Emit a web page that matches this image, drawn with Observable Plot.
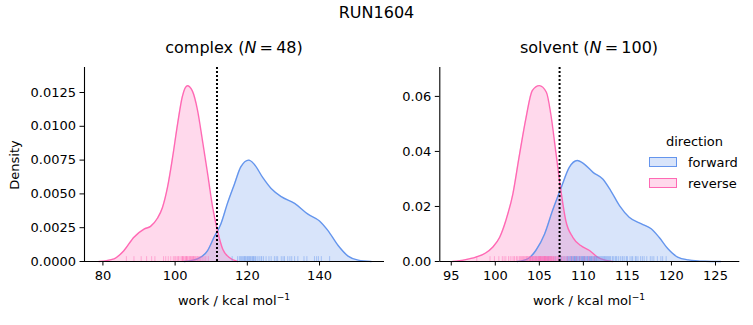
<!DOCTYPE html>
<html><head><meta charset="utf-8">
<script src="https://cdn.jsdelivr.net/npm/d3@7"></script>
<script src="https://cdn.jsdelivr.net/npm/@observablehq/plot@0.6"></script>
<style>
body{margin:0;background:#fff;}
#chart{position:relative;width:753px;height:325px;font-family:"DejaVu Sans",sans-serif;color:#000;overflow:hidden;background:#fff}
.abs{position:absolute;white-space:nowrap;line-height:1;transform:translate(-50%,-50%);}
.panel{position:absolute;top:0;}
sup{font-size:70%;vertical-align:0.55em;line-height:0}
.patch{position:absolute;width:26px;height:8px;}
</style></head><body><div id="chart"></div>
<script>
// ---- data ----
const title = "RUN1604";
const directions = ["forward", "reverse"];
const colors = ["#6495ED", "#FF69B4"];

// complex panel: KDE curves
const complexForwardX = [102.5,106.2,109.0,110.8,112.7,114.5,116.4,118.2,120.4,121.9,124.3,126.6,129.4,133.1,136.8,140.0,142.3,145.1,147.9,150.7,154.3];
const complexForwardY = [0,0.0002,0.0008,0.0018,0.0028,0.0043,0.0057,0.0070,0.0075,0.0072,0.0062,0.0054,0.0048,0.0043,0.0035,0.0030,0.0023,0.0012,0.0004,0.0001,0];
const complexReverseX = [78.9,83.1,85.8,88.6,91.4,93.2,95.1,96.5,97.9,99.3,100.7,102.0,103.4,104.8,106.2,107.6,109.0,110.4,111.8,113.2,115.0,117.3];
const complexReverseY = [0,0.0002,0.0008,0.0018,0.0024,0.0026,0.0032,0.0040,0.0055,0.0077,0.0102,0.0122,0.0130,0.0126,0.0112,0.0089,0.0065,0.0040,0.0022,0.0009,0.0003,0];
const complexForwardRug = [115.8,117.3,117.8,118.1,118.4,118.7,119.0,119.2,119.4,119.6,119.9,120.1,120.3,120.6,120.8,121.0,121.3,121.5,121.7,121.9,122.2,122.4,122.9,123.3,123.8,124.0,124.5,125.2,126.0,126.6,127.5,128.0,128.4,129.4,129.9,130.3,131.2,131.8,132.3,133.1,134.0,135.7,136.5,138.6,139.2,139.7,140.5,142.8];
const complexReverseRug = [86.5,88.6,90.6,92.1,93.5,94.4,96.8,97.4,98.1,98.8,99.5,99.9,100.2,100.6,100.9,101.1,101.6,101.9,102.0,102.1,102.3,102.5,102.8,103.0,103.1,103.2,103.4,103.6,103.9,104.1,104.2,104.4,104.6,104.8,105.0,105.1,105.3,105.5,105.7,106.0,106.2,106.5,106.8,107.1,107.5,108.0,108.5,109.2];
const complexThreshold = 111.6;
const complexN = 48;

// solvent panel: KDE curves
const solventForwardX = [102.5,103.7,104.6,105.6,106.5,107.5,108.4,109.3,110.1,111.1,112.2,113.1,114.1,115.2,116.6,117.7,118.6,119.6,120.7,121.9,123.8,125.6];
const solventForwardY = [0,0.001,0.004,0.010,0.0185,0.027,0.0342,0.0367,0.0354,0.0324,0.030,0.0258,0.0203,0.0161,0.0137,0.0119,0.0088,0.0046,0.0016,0.0006,0.0001,0];
const solventReverseX = [95.15,96.5,97.8,98.9,99.7,100.5,101.2,102.0,102.7,103.5,104.2,105.0,105.8,106.3,106.9,107.5,108.0,108.8,109.7,110.7,111.6,112.6,113.3];
const solventReverseY = [0,0.0006,0.0016,0.0031,0.0052,0.0088,0.0149,0.0246,0.0379,0.0524,0.0621,0.0639,0.0615,0.0536,0.0391,0.0246,0.0149,0.0088,0.0058,0.0040,0.0016,0.0004,0];
const solventForwardRug = [106.0,106.8,107.2,107.4,107.5,107.7,107.9,108.1,108.2,108.3,108.4,108.5,108.6,108.65,108.7,108.8,108.9,108.95,109.0,109.05,109.1,109.2,109.25,109.3,109.4,109.5,109.55,109.6,109.7,109.8,109.85,109.9,110.0,110.05,110.1,110.15,110.2,110.3,110.4,110.45,110.5,110.6,110.7,110.75,110.8,110.9,110.95,111.0,111.1,111.2,111.25,111.3,111.4,111.45,111.5,111.6,111.7,111.8,111.9,112.0,112.1,112.2,112.3,112.4,112.5,112.6,112.7,112.8,112.9,113.0,113.1,113.3,113.4,113.6,113.7,113.8,114.0,114.2,114.4,114.5,114.7,114.9,115.0,115.3,115.5,115.6,115.9,116.0,116.2,116.5,116.7,116.9,117.2,117.6,117.8,118.0,118.4,118.8,119.0,119.4];
const solventReverseRug = [97.9,99.4,99.9,100.4,100.8,101.0,101.2,101.5,101.7,101.9,102.1,102.2,102.4,102.5,102.7,102.8,102.9,103.0,103.1,103.2,103.3,103.4,103.5,103.6,103.6,103.7,103.8,103.9,103.9,104.0,104.0,104.1,104.2,104.2,104.3,104.3,104.4,104.5,104.5,104.6,104.6,104.7,104.7,104.8,104.9,104.9,105.0,105.0,105.1,105.1,105.1,105.2,105.2,105.3,105.3,105.4,105.4,105.5,105.5,105.6,105.6,105.6,105.7,105.7,105.8,105.8,105.9,105.9,106.0,106.0,106.1,106.1,106.2,106.2,106.3,106.3,106.4,106.4,106.5,106.6,106.6,106.7,106.8,106.9,107.0,107.1,107.2,107.3,107.5,107.6,107.8,108.0,108.2,108.5,108.8,109.2,109.6,110.1,110.6,111.2];
const solventThreshold = 107.3;
const solventN = 100;

// axes
const complexXTicks = [80,100,120,140];
const complexYTicks = [0,0.0025,0.005,0.0075,0.01,0.0125];
const solventXTicks = [95,100,105,110,115,120,125];
const solventYTicks = [0,0.02,0.04,0.06];

// ---- drawing ----
const zip = (xs, ys) => xs.map((x, i) => ({x, y: ys[i]}));

function panel(o) {
  const rugH = o.yDomain[1] * 0.025;
  const curves = [zip(o.fx, o.fy), zip(o.rx, o.ry)];
  const rugs = [o.fr, o.rr];
  const marks = [];
  curves.forEach((c, i) => marks.push(Plot.areaY(c, {x: "x", y: "y", fill: colors[i], fillOpacity: 0.25, curve: "monotone-x"})));
  curves.forEach((c, i) => marks.push(Plot.lineY(c, {x: "x", y: "y", stroke: colors[i], strokeWidth: 1.4, curve: "monotone-x"})));
  rugs.forEach((r, i) => marks.push(Plot.ruleX(r, {x: d => d, y1: 0, y2: rugH, stroke: colors[i], strokeOpacity: 0.45, strokeWidth: 1})));
  marks.push(Plot.ruleX([o.threshold], {stroke: "black", strokeWidth: 2, strokeDasharray: "2,2"}));
  marks.push(Plot.ruleX([o.xDomain[0]], {stroke: "black", strokeWidth: 1.1}));
  marks.push(Plot.ruleY([0], {stroke: "black", strokeWidth: 1.1}));
  marks.push(Plot.axisX({ticks: o.xTicks, tickSize: 4.5, tickPadding: 5, label: null, tickFormat: d => String(d)}));
  marks.push(Plot.axisY({ticks: o.yTicks, tickSize: 4.5, tickPadding: 4, label: null, tickFormat: o.yFormat}));
  return Plot.plot({
    width: o.width, height: 325,
    marginLeft: o.marginLeft, marginRight: o.marginRight, marginTop: 67, marginBottom: 64,
    x: {domain: o.xDomain}, y: {domain: o.yDomain},
    style: {fontFamily: "DejaVu Sans", fontSize: "13px", color: "black", background: "transparent", overflow: "visible"},
    marks
  });
}

const chart = document.getElementById("chart");
const p1 = panel({fx: complexForwardX, fy: complexForwardY, rx: complexReverseX, ry: complexReverseY,
  fr: complexForwardRug, rr: complexReverseRug, threshold: complexThreshold,
  xDomain: [74.9, 158], yDomain: [0, 0.01435], xTicks: complexXTicks, yTicks: complexYTicks,
  yFormat: d3.format(".4f"), width: 400, marginLeft: 84, marginRight: 16});
p1.classList.add("panel"); p1.style.left = "0px";
chart.appendChild(p1);
const p2 = panel({fx: solventForwardX, fy: solventForwardY, rx: solventReverseX, ry: solventReverseY,
  fr: solventForwardRug, rr: solventReverseRug, threshold: solventThreshold,
  xDomain: [93.7, 127.76], yDomain: [0, 0.0705], xTicks: solventXTicks, yTicks: solventYTicks,
  yFormat: d3.format(".2f"), width: 353, marginLeft: 39.3, marginRight: 13.7});
p2.classList.add("panel"); p2.style.left = "400px";
chart.appendChild(p2);

function text(html, x, y, size, extra) {
  const d = document.createElement("div");
  d.className = "abs";
  d.innerHTML = html;
  d.style.left = x + "px"; d.style.top = y + "px"; d.style.fontSize = size + "px";
  if (extra) Object.assign(d.style, extra);
  chart.appendChild(d);
  return d;
}
text(title, 376.5, 13, 16);
text(`complex (<i>N</i>&thinsp;=&thinsp;${complexN})`, 234, 48, 16);
text(`solvent (<i>N</i>&thinsp;=&thinsp;${solventN})`, 589, 48, 16);
text("Density", 13.5, 165, 13, {transform: "translate(-50%,-50%) rotate(-90deg)"});
text("work / kcal mol<sup>−1</sup>", 234, 300, 13);
text("work / kcal mol<sup>−1</sup>", 589, 300, 13);
// legend
text("direction", 694.5, 141, 13);
directions.forEach((name, i) => {
  const p = document.createElement("div");
  p.className = "patch";
  p.style.left = "649px"; p.style.top = (157 + i * 21) + "px";
  p.style.border = `1.3px solid ${colors[i]}`;
  p.style.background = d3.color(colors[i]).copy({opacity: 0.25}).toString();
  chart.appendChild(p);
  text(name, 688, 162 + i * 21, 13, {transform: "translate(0,-50%)"});
});
</script></body></html>
